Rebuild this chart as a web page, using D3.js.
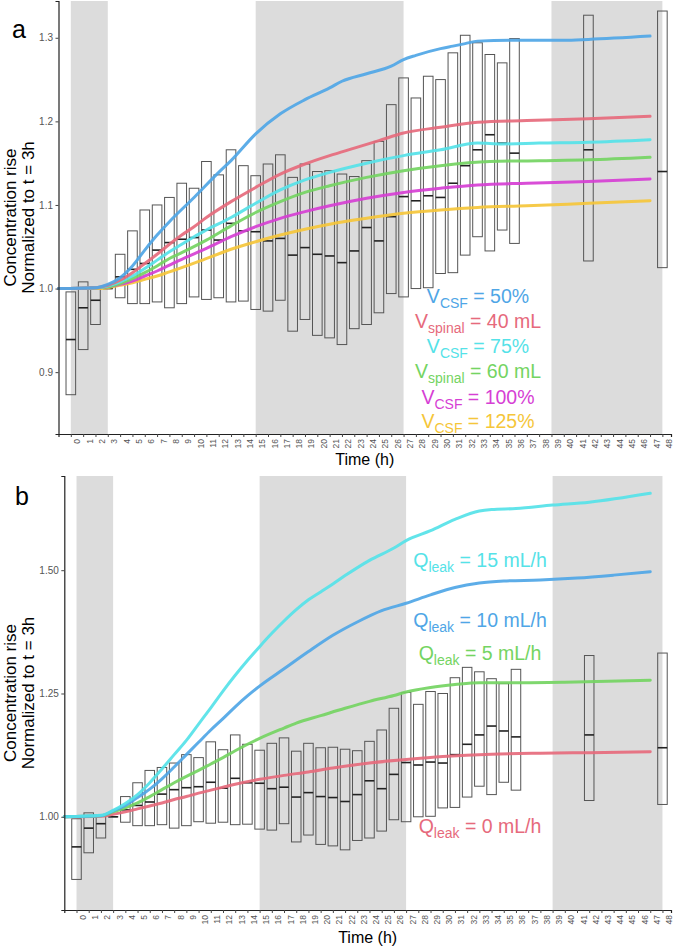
<!DOCTYPE html>
<html><head><meta charset="utf-8">
<script src="https://cdn.jsdelivr.net/npm/d3@7"></script>
<style>
body{margin:0;background:#fff}
svg{display:block}
text{font-family:"Liberation Sans",Arial,Helvetica,sans-serif}
</style>
</head><body>
<svg id="chart" width="673" height="948"></svg>
<script>
// ---------- DATA ----------
const xTickLabels = [0,1,2,3,4,5,6,7,8,9,10,11,12,13,14,15,16,17,18,19,20,21,22,23,24,25,26,27,28,29,30,31,32,33,34,35,36,37,38,39,40,41,42,43,44,45,46,47,48];
const nightStart = [0, 15, 39];
const nightEnd   = [3, 27, 48];

const boxTimes = [0,1,2,3,4,5,6,7,8,9,10,11,12,13,14,15,16,17,18,19,20,21,22,23,24,25,26,27,28,29,30,31,32,33,34,35,36,42,48];
const boxLow  = [0.873,0.927,0.957,1.000,0.989,0.982,0.982,0.984,0.977,0.982,0.990,0.987,0.989,0.984,0.985,0.975,0.973,0.986,0.949,0.963,0.944,0.941,0.933,0.952,0.957,0.971,0.994,0.990,1.000,1.001,1.018,1.019,1.040,1.062,1.045,1.070,1.054,1.033,1.025];
const boxMed  = [0.939,0.977,0.986,1.000,1.014,1.023,1.030,1.046,1.055,1.059,1.061,1.070,1.058,1.078,1.069,1.068,1.057,1.060,1.040,1.049,1.041,1.039,1.031,1.045,1.073,1.057,1.086,1.110,1.105,1.111,1.109,1.126,1.147,1.166,1.184,1.174,1.162,1.166,1.140];
const boxHigh = [0.996,1.008,1.002,1.000,1.041,1.069,1.094,1.100,1.109,1.126,1.120,1.152,1.136,1.166,1.147,1.135,1.149,1.160,1.133,1.149,1.140,1.141,1.137,1.134,1.153,1.176,1.220,1.252,1.228,1.254,1.250,1.282,1.303,1.294,1.280,1.270,1.299,1.327,1.332];

// Panel a simulated curves
const aVcsf50_t  = [-1,2,3,4,5,6,7,8,10,12,13,15,17,19,21,22,24,26,27,28,30,31,32,33,36,40,42,47];
const aVcsf50_v  = [1.000,1.001,1.005,1.013,1.027,1.046,1.064,1.080,1.109,1.139,1.153,1.185,1.209,1.226,1.240,1.248,1.257,1.266,1.274,1.279,1.287,1.290,1.293,1.296,1.297,1.297,1.298,1.302];
const aVsp40_t   = [-1,2,3,4,5,6,7,8,9,10,11,13,15,17,19,21,23,25,27,30,33,37,42,47];
const aVsp40_v   = [1.000,1.001,1.004,1.010,1.019,1.030,1.041,1.053,1.064,1.074,1.085,1.104,1.121,1.137,1.149,1.159,1.168,1.177,1.186,1.193,1.199,1.201,1.203,1.206];
const aVcsf75_t  = [-1,2,3,4,5,6,7,8,9,10,11,13,15,17,19,21,24,27,30,33,35,38,42,47];
const aVcsf75_v  = [1.000,1.001,1.003,1.008,1.015,1.024,1.034,1.044,1.053,1.062,1.070,1.085,1.102,1.118,1.130,1.139,1.150,1.159,1.166,1.174,1.173,1.174,1.175,1.178];
const aVsp60_t   = [-1,2,3,4,5,6,7,8,9,11,13,15,17,19,21,24,27,30,34,38,42,47];
const aVsp60_v   = [1.000,1.001,1.002,1.006,1.012,1.019,1.027,1.036,1.043,1.058,1.075,1.091,1.104,1.115,1.123,1.133,1.141,1.147,1.152,1.153,1.154,1.157];
const aVcsf100_t = [-1,2,3,4,5,6,7,8,9,11,13,15,17,19,21,24,27,30,33,37,42,47];
const aVcsf100_v = [1.000,1.001,1.002,1.005,1.009,1.015,1.021,1.028,1.035,1.048,1.062,1.074,1.084,1.092,1.099,1.108,1.115,1.120,1.124,1.126,1.128,1.131];
const aVcsf125_t = [-1,2,3,4,5,6,7,8,9,10.5,13,15,17,19,21,24,27,30,33,37,42,47];
const aVcsf125_v = [1.000,1.000,1.001,1.004,1.007,1.011,1.015,1.020,1.025,1.033,1.047,1.056,1.064,1.071,1.077,1.084,1.090,1.094,1.097,1.099,1.102,1.105];

// Panel b simulated curves
const bQ15_t = [-1,2,3,4,5,6,7,8,9,10,11,12,13,14,15,16,17,18,19,20,21,22,24,26,27,29,31,33,34,36,39,42,47];
const bQ15_v = [1.000,1.003,1.013,1.027,1.045,1.069,1.097,1.126,1.155,1.188,1.221,1.255,1.287,1.317,1.345,1.372,1.397,1.420,1.440,1.456,1.472,1.489,1.520,1.545,1.560,1.580,1.603,1.620,1.623,1.625,1.632,1.638,1.656];
const bQ10_t = [-1,2,3,4,5,6,7,8,9,10,11,12,13,14,15,17,19,21,23,25,27,29,31,33,35,38,41,44,47];
const bQ10_v = [1.000,1.002,1.012,1.023,1.039,1.056,1.077,1.101,1.126,1.151,1.176,1.199,1.223,1.245,1.265,1.300,1.335,1.368,1.395,1.418,1.433,1.450,1.465,1.474,1.478,1.480,1.484,1.490,1.497];
const bQ5_t  = [-1,2,3,4,5,6,7,8,9,10,11,12,13,15,17,18,20,22,24,26,27,29,31,33,36,40,47];
const bQ5_v  = [1.000,1.002,1.010,1.018,1.028,1.041,1.055,1.069,1.082,1.094,1.107,1.120,1.134,1.159,1.180,1.190,1.205,1.220,1.234,1.246,1.253,1.262,1.268,1.272,1.272,1.273,1.277];
const bQ0_t  = [-1,2,3,4,5,6,7,8,9,10,11,12,13,15,17,19,21,24,27,30,34,38,42,47];
const bQ0_v  = [1.000,1.001,1.005,1.010,1.016,1.022,1.028,1.035,1.041,1.048,1.054,1.060,1.066,1.076,1.084,1.091,1.099,1.109,1.116,1.122,1.127,1.129,1.130,1.132];

const aLabelMain = ["V","V","V","V","V","V"];
const aLabelSub  = ["CSF","spinal","CSF","spinal","CSF","CSF"];
const aLabelRest = [" = 50%"," = 40 mL"," = 75%"," = 60 mL"," = 100%"," = 125%"];
const bLabelMain = ["Q","Q","Q","Q"];
const bLabelSub  = ["leak","leak","leak","leak"];
const bLabelRest = [" = 15 mL/h"," = 10 mL/h"," = 5 mL/h"," = 0 mL/h"];

const aYTicks = [0.9,1.0,1.1,1.2,1.3];
const aYTickLabels = ["0.9","1.0","1.1","1.2","1.3"];
const bYTicks = [1.00,1.25,1.50];
const bYTickLabels = ["1.00","1.25","1.50"];

// ---------- STYLE / LAYOUT ----------
const C = {blue:"#4fa6e6", red:"#e66a7c", cyan:"#55e2e8", green:"#74d462", magenta:"#d63fd4", yellow:"#f5c63a"};
const svg = d3.select("#chart");
const FONT = '"Liberation Sans",Arial,sans-serif';

function drawPanel(cfg){
  const g = svg.append("g");
  const x = d3.scaleLinear().domain([-1, 48.7]).range([cfg.left, cfg.right]);
  const y = d3.scaleLinear().domain(cfg.yDomain).range([cfg.bottom, cfg.top]);

  // night bands
  g.selectAll(".band").data(nightStart.map((s,i)=>[s,nightEnd[i]])).enter().append("rect")
    .attr("x", d=>x(d[0])).attr("width", d=>x(d[1])-x(d[0]))
    .attr("y", cfg.top).attr("height", cfg.bottom-cfg.top)
    .attr("fill","#dcdcdc");

  // boxes
  const bw = 0.78;
  const bx = g.append("g");
  boxTimes.forEach((t,i)=>{
    bx.append("rect")
      .attr("x", x(t-bw/2)).attr("width", x(t+bw/2)-x(t-bw/2))
      .attr("y", y(boxHigh[i])).attr("height", Math.max(0.01, y(boxLow[i])-y(boxHigh[i])))
      .attr("fill","none").attr("stroke","#555").attr("stroke-width",1);
    bx.append("line")
      .attr("x1", x(t-bw/2)).attr("x2", x(t+bw/2))
      .attr("y1", y(boxMed[i])).attr("y2", y(boxMed[i]))
      .attr("stroke","#222").attr("stroke-width",1.6);
  });

  // curves
  const line = d3.line().x(d=>x(d[0])).y(d=>y(d[1])).curve(d3.curveMonotoneX);
  cfg.series.forEach(s=>{
    g.append("path").datum(s.t.map((t,i)=>[t,s.v[i]]))
      .attr("d", line).attr("fill","none")
      .attr("stroke", s.color).attr("stroke-width",3).attr("stroke-opacity",0.92)
      .attr("stroke-linejoin","round").attr("stroke-linecap","round");
  });

  // axes
  const xAxis = d3.axisBottom(x).tickValues(xTickLabels).tickSize(3).tickFormat("");
  const xa = g.append("g").attr("transform",`translate(0,${cfg.bottom})`).call(xAxis);
  xa.select(".domain").attr("stroke","#222").attr("stroke-width",1.2);
  xa.selectAll(".tick line").attr("stroke","#444");
  xa.selectAll(".tick").append("text")
    .text(d=>d)
    .attr("transform", `translate(${cfg.xlabDx},${cfg.xlabDy}) rotate(-90)`)
    .attr("text-anchor","end").attr("fill","#555")
    .attr("font-size", 8.5).attr("font-family", FONT).attr("x",0).attr("y",0)
    .attr("dy",0);

  const yAxis = d3.axisLeft(y).tickValues(cfg.yTicks).tickSize(3).tickFormat((d,i)=>cfg.yTickLabels[i]);
  const ya = g.append("g").attr("transform",`translate(${cfg.left},0)`).call(yAxis);
  ya.select(".domain").attr("stroke","#222").attr("stroke-width",1.2);
  ya.selectAll(".tick line").attr("stroke","#444");
  ya.selectAll(".tick text").attr("fill","#555").attr("font-size",10).attr("font-family",FONT).attr("x",-5.5);

  // axis titles
  const cy = (cfg.top+cfg.bottom)/2;
  g.append("text").attr("transform",`translate(15.5,${cy}) rotate(-90)`).attr("text-anchor","middle")
    .attr("font-size",17).attr("fill","#000").text("Concentration rise");
  g.append("text").attr("transform",`translate(33.5,${cy}) rotate(-90)`).attr("text-anchor","middle")
    .attr("font-size",17).attr("fill","#000").text("Normalized to t = 3h");
  g.append("text").attr("x",(cfg.left+cfg.right)/2).attr("y",cfg.titleY).attr("text-anchor","middle")
    .attr("font-size",16).attr("fill","#000").text("Time (h)");

  // panel letter
  g.append("text").attr("x",cfg.letterX).attr("y",cfg.letterY).attr("font-size",25).attr("fill","#000").text(cfg.letter);

  // labels
  cfg.labels.forEach((L,i)=>{
    const t = g.append("text").attr("x",L.x).attr("y",L.y).attr("text-anchor","middle")
      .attr("fill",L.color).attr("font-size",19.5);
    t.append("tspan").text(L.main);
    t.append("tspan").attr("font-size",14).attr("dy",5).text(L.sub);
    t.append("tspan").attr("dy",-5).text(L.rest);
  });
}

const aColors = [C.blue, C.red, C.cyan, C.green, C.magenta, C.yellow];
const aBase = [303.3, 328.3, 353.3, 378.3, 403.8, 428.3];
drawPanel({
  left:58.5, right:671, top:1, bottom:434, yDomain:[0.826,1.344],
  yTicks:aYTicks, yTickLabels:aYTickLabels, titleY:465, letter:"a", letterX:12, letterY:38,
  xlabDx:9, xlabDy:5,
  series:[
    {t:aVcsf125_t, v:aVcsf125_v, color:C.yellow},
    {t:aVcsf100_t, v:aVcsf100_v, color:C.magenta},
    {t:aVsp60_t, v:aVsp60_v, color:C.green},
    {t:aVcsf75_t, v:aVcsf75_v, color:C.cyan},
    {t:aVsp40_t, v:aVsp40_v, color:C.red},
    {t:aVcsf50_t, v:aVcsf50_v, color:C.blue}
  ],
  labels: aLabelMain.map((m,i)=>({main:m, sub:aLabelSub[i], rest:aLabelRest[i], color:aColors[i], x:478, y:aBase[i]}))
});

const bColors = [C.cyan, C.blue, C.green, C.red];
const bBase = [566.7, 626.7, 660, 832.7];
drawPanel({
  left:64.3, right:671, top:476, bottom:910, yDomain:[0.811,1.691],
  yTicks:bYTicks, yTickLabels:bYTickLabels, titleY:943, letter:"b", letterX:15, letterY:505,
  xlabDx:9, xlabDy:5,
  series:[
    {t:bQ0_t, v:bQ0_v, color:C.red},
    {t:bQ5_t, v:bQ5_v, color:C.green},
    {t:bQ10_t, v:bQ10_v, color:C.blue},
    {t:bQ15_t, v:bQ15_v, color:C.cyan}
  ],
  labels: bLabelMain.map((m,i)=>({main:m, sub:bLabelSub[i], rest:bLabelRest[i], color:bColors[i], x:480, y:bBase[i]}))
});
</script>
</body></html>
